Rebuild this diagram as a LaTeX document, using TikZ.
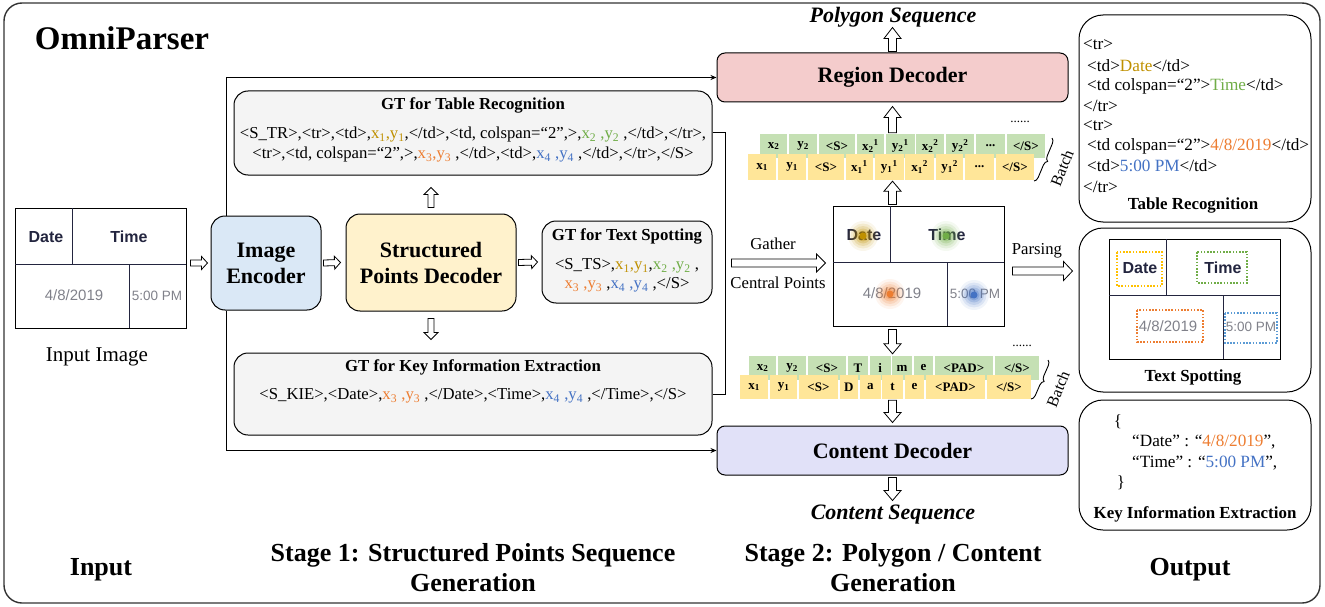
\documentclass[tikz,border=0pt]{standalone}
\usepackage{fontspec}
\setmainfont{Liberation Serif}
\newfontfamily\imgfont{Liberation Sans}
\usetikzlibrary{calc,decorations.pathreplacing,arrows.meta}
\definecolor{cGold}{HTML}{BF9000}
\definecolor{cGreen}{HTML}{70AD47}
\definecolor{cOrange}{HTML}{ED7D31}
\definecolor{cBlue}{HTML}{4472C4}
\definecolor{cEnc}{HTML}{DAE8F6}
\definecolor{cSpd}{HTML}{FFF2CC}
\definecolor{cGt}{HTML}{F4F4F4}
\definecolor{cReg}{HTML}{F4CCCC}
\definecolor{cCon}{HTML}{E1E1F8}
\definecolor{cTokG}{HTML}{C5E0B4}
\definecolor{cTokY}{HTML}{FFE699}
\definecolor{cInk}{HTML}{23253F}
\definecolor{cGray}{HTML}{80818A}
\definecolor{cDotY}{HTML}{FFC000}
\definecolor{cDotG}{HTML}{70AD47}
\definecolor{cDotO}{HTML}{ED7D31}
\definecolor{cDotB}{HTML}{5B9BD5}

\newcommand\fs[2]{\fontsize{#1}{#2}\selectfont}
\newcommand\tdots{...}

\tikzset{
  box/.style={draw=black, line width=1pt, align=center, inner sep=2pt},
  gtbox/.style={box, fill=cGt, rounded corners=14},
  panel/.style={draw=black, line width=1pt, rounded corners=24, inner sep=0},
  hollow/.style={draw=black, fill=white, line width=0.8pt, line join=miter},
  conn/.style={draw=black, line width=1pt},
  lbl/.style={inner sep=0, font=\fs{16.7}{20}},
  gttitle/.style={inner sep=0, font=\bfseries\fs{16.8}{20}},
  panellbl/.style={inner sep=0, font=\bfseries\fs{16.9}{20}},
  plain/.style={inner sep=0, font=\fs{17.2}{20}, anchor=west},
  stagelbl/.style={inner sep=0, align=center, font=\bfseries\fs{26}{30}},
  tok/.style={inner sep=0, anchor=west, font=\bfseries\fs{13}{15}},
  imgb/.style={inner sep=0, text=cInk, font=\imgfont\bfseries\fs{16}{18}},
  imgg/.style={inner sep=0, text=cGray, font=\imgfont\fs{15}{17}},
  dotbox/.style={dash pattern=on 1.6pt off 1.6pt, line width=1.8pt},
  brace/.style={decorate, decoration={brace, amplitude=5pt}, line width=0.9pt}
}

% hollow block arrow from #1 to #2: shaft half width #3, head half width #4, head length #5
\newcommand\hollowarr[5]{%
  \coordinate (ha) at #1; \coordinate (hb) at #2;
  \coordinate (hh) at ($(hb)!#5!(ha)$);
  \draw[hollow] ($(ha)!#3!90:(hb)$) -- ($(hh)!#3!90:(hb)$) -- ($(hh)!#4!90:(hb)$) -- (hb)
    -- ($(hh)!#4!-90:(hb)$) -- ($(hh)!#3!-90:(hb)$) -- ($(ha)!#3!-90:(hb)$) -- cycle;}

% small table image, #1 name, #2 top-left
\newcommand\tableimg[2]{%
  \begin{scope}[shift={#2}]
    \node[draw=black, line width=1pt, minimum width=171, minimum height=120, inner sep=0] (#1) at (85.5,60) {};
    \draw[cInk, line width=0.7pt] (0,56) -- (171,56) (57,0) -- (57,56) (114,56) -- (114,120);
    \node[imgb] (#1date) at (31,29) {Date};
    \node[imgb] (#1time) at (114,29) {Time};
    \node[imgg] (#1day) at (59,87) {4/8/2019};
    \node[imgg, font=\imgfont\fs{13.5}{15}] (#1hour) at (142,88) {5:00 PM};
  \end{scope}}

\newcommand\blurdot[2]{%
  \foreach \r/\o in {15/0.08,12.5/0.12,10/0.16,7.5/0.22,5.5/0.3} {\fill[#2, opacity=\o] #1 circle (\r pt);}
  \fill[#2] #1 circle (3.5pt);}

% token row: #1 prefix, #2 start, #3 fill, #4 height, #5 list width/text
\newcommand\tokrow[5]{%
  \node[inner sep=0, minimum size=0] (#10) at #2 {};
  \foreach \w/\t [count=\i, remember=\i as \j (initially 0)] in {#5} {
    \node[tok, fill=#3, minimum width=\w-1.5, minimum height=#4] (#1\i) at ($(#1\j.east)+(1.5,0)$) {\t};
  }}

\begin{document}
\begin{tikzpicture}[x=1pt, y=-1pt]
\useasboundingbox (0,0) rectangle (1325,607);
\draw[line width=1.4pt, black!80, rounded corners=18] (4,3) rectangle (1320,603);

\node[inner sep=0, font=\bfseries\fs{33}{36}] (title) at (122,38) {OmniParser};

% ---------- input ----------
\tableimg{inimg}{(15,208)}
\node[inner sep=0, font=\fs{21}{24}] (inlbl) at (97,357) {Input Image};

% ---------- stage 1 ----------
\node[box, fill=cEnc, rounded corners=14, minimum width=110, minimum height=94,
      font=\bfseries\fs{22}{26}] (enc) at (266,263) {Image\\Encoder};
\node[box, fill=cSpd, rounded corners=14, minimum width=170, minimum height=97,
      font=\bfseries\fs{22}{26}] (spd) at (431,262.5) {Structured\\Points Decoder};

\node[gtbox, minimum width=478, minimum height=84] (gtr) at (473,133) {};
\node[gttitle] (gtrT) at (473,105) {GT for Table Recognition};
\node[lbl] (gtr1) at (473,135) {<S\_TR>,<tr>,<td>,\textcolor{cGold}{x\textsubscript{1},y\textsubscript{1}},</td>,<td, colspan=“2”,>,\textcolor{cGreen}{x\textsubscript{2} ,y\textsubscript{2}} ,</td>,</tr>,};
\node[lbl] (gtr2) at (473,155) {<tr>,<td, colspan=“2”,>,\textcolor{cOrange}{x\textsubscript{3},y\textsubscript{3}} ,</td>,<td>,\textcolor{cBlue}{x\textsubscript{4} ,y\textsubscript{4}} ,</td>,</tr>,</S>};

\node[gtbox, minimum width=170, minimum height=82] (gts) at (627,262) {};
\node[gttitle] (gtsT) at (627,236) {GT for Text Spotting};
\node[lbl] (gts1) at (627,266) {<S\_TS>,\textcolor{cGold}{x\textsubscript{1},y\textsubscript{1}},\textcolor{cGreen}{x\textsubscript{2} ,y\textsubscript{2}} ,};
\node[lbl] (gts2) at (627,285) {\textcolor{cOrange}{x\textsubscript{3} ,y\textsubscript{3}} ,\textcolor{cBlue}{x\textsubscript{4} ,y\textsubscript{4}} ,</S>};

\node[gtbox, minimum width=478, minimum height=82] (gkie) at (473,394) {};
\node[gttitle] (gkieT) at (473,367) {GT for Key Information Extraction};
\node[lbl] (gkie1) at (473,396) {<S\_KIE>,<Date>,\textcolor{cOrange}{x\textsubscript{3} ,y\textsubscript{3}} ,</Date>,<Time>,\textcolor{cBlue}{x\textsubscript{4} ,y\textsubscript{4}} ,</Time>,</S>};

% ---------- stage 2 ----------
\node[box, fill=cReg, rounded corners=8, minimum width=351, minimum height=49,
      font=\bfseries\fs{22}{26}] (reg) at (892.5,77.5) {Region Decoder};
\node[box, fill=cCon, rounded corners=8, minimum width=351, minimum height=49,
      font=\bfseries\fs{22}{26}] (con) at (892.5,450.5) {Content Decoder};
\node[inner sep=0, font=\bfseries\itshape\fs{22}{26}] (pseq) at (893,17) {Polygon Sequence};
\node[inner sep=0, font=\bfseries\itshape\fs{22}{26}] (cseq) at (893,515) {Content Sequence};

\tableimg{mid}{(833,206)}
\blurdot{($(middate)+(-1,1)$)}{cGold}
\blurdot{($(midtime)+(-1,1)$)}{cGreen}
\blurdot{($(midday)+(-2,1)$)}{cOrange}
\blurdot{($(midhour)+(-1,1)$)}{cBlue}

\tokrow{ga}{(758.5,146)}{cTokG}{24}{28/x\textsubscript{2}, 30/y\textsubscript{2}, 37/{<S>}, 29/x\textsubscript{2}\textsuperscript{1}, 30/y\textsubscript{2}\textsuperscript{1}, 29/x\textsubscript{2}\textsuperscript{2}, 30/y\textsubscript{2}\textsuperscript{2}, 30/\tdots, 40/{</S>}}
\tokrow{ya}{(746.5,167)}{cTokY}{26}{29/x\textsubscript{1}, 30/y\textsubscript{1}, 37/{<S>}, 29/x\textsubscript{1}\textsuperscript{1}, 30/y\textsubscript{1}\textsuperscript{1}, 30/x\textsubscript{1}\textsuperscript{2}, 29/y\textsubscript{1}\textsuperscript{2}, 30/\tdots, 40/{</S>}}
\tokrow{gb}{(747.5,368)}{cTokG}{24}{28/x\textsubscript{2}, 30/y\textsubscript{2}, 39/{<S>}, 22/T, 22/i, 21/m, 21/e, 59/{<PAD>}, 46/{</S>}}
\tokrow{yb}{(738.5,387)}{cTokY}{24}{29/x\textsubscript{1}, 29/y\textsubscript{1}, 40/{<S>}, 20/D, 22/a, 22/t, 21/e, 60/{<PAD>}, 46/{</S>}}

\coordinate (brA1) at (1052,138);
\coordinate (brA2) at (1034,181);
\draw[brace] (brA1) -- (brA2);
\node[inner sep=0, rotate=68, font=\fs{16}{20}] (batchA) at (1062,168) {Batch};
\coordinate (brB1) at (1048,360);
\coordinate (brB2) at (1031,399);
\draw[brace] (brB1) -- (brB2);
\node[inner sep=0, rotate=68, font=\fs{16}{20}] (batchB) at (1058,389) {Batch};
\node[inner sep=0, font=\fs{13}{15}] (dotsA) at (1020,122) {......};
\node[inner sep=0, font=\fs{13}{15}] (dotsB) at (1022,346) {......};

\node[lbl] (gather) at (773,244) {Gather};
\node[lbl] (central) at (778,283) {Central Points};
\node[lbl] (parsing) at (1037,251) {Parsing};

% ---------- output panels ----------
\node[panel, minimum width=232, minimum height=207] (ptr) at (1195,118.5) {};
\node[plain] (tr1) at (1083,45) {<tr>};
\node[plain] (tr2) at (1087,66) {<td>\textcolor{cGold}{Date}</td>};
\node[plain] (tr3) at (1087,86) {<td colspan=“2”>\textcolor{cGreen}{Time}</td>};
\node[plain] (tr4) at (1083,106) {</tr>};
\node[plain] (tr5) at (1083,126) {<tr>};
\node[plain] (tr6) at (1087,146) {<td colspan=“2”>\textcolor{cOrange}{4/8/2019}</td>};
\node[plain] (tr7) at (1087,166) {<td>\textcolor{cBlue}{5:00 PM}</td>};
\node[plain] (tr8) at (1083,187) {</tr>};
\node[panellbl] (trT) at (1193,206) {Table Recognition};

\node[panel, minimum width=232, minimum height=164] (pts) at (1195,310) {};
\tableimg{tsimg}{(1109,239)}
\draw[dotbox, cDotY] (1117,252) rectangle (1162,286);
\draw[dotbox, cDotG] (1197,252) rectangle (1247,283);
\draw[dotbox, cDotO] (1137,310) rectangle (1203,342);
\draw[dotbox, cDotB] (1225,313) rectangle (1277,343);
\node[panellbl] (tsT) at (1193,377) {Text Spotting};

\node[panel, minimum width=232, minimum height=130] (pkie) at (1195,465) {};
\node[inner sep=0, font=\fs{17}{20}] (kb1) at (1118,422) {\{};
\node[plain] (kie1) at (1132,442) {“Date” : “\textcolor{cOrange}{4/8/2019}”,};
\node[plain] (kie2) at (1132,463) {“Time” : “\textcolor{cBlue}{5:00 PM}”,};
\node[inner sep=0, font=\fs{17}{20}] (kb2) at (1121,483) {\}};
\node[panellbl] (kieT) at (1195,514) {Key Information Extraction};

% ---------- stage labels ----------
\node[stagelbl] (sIn) at (101,570) {Input};
\node[stagelbl] (s1) at (473,568) {Stage 1: Structured Points Sequence\\Generation};
\node[stagelbl] (s2) at (893,568) {Stage 2: Polygon / Content\\Generation};
\node[stagelbl] (sOut) at (1190,570) {Output};

% ---------- connectors ----------
\coordinate (encTop) at ($(enc.north west)+(16,0)$);
\coordinate (encBot) at ($(enc.south west)+(16,0)$);
\draw[conn, -{Stealth[length=6pt,width=5pt]}] (encTop) |- (reg.west);
\draw[conn, -{Stealth[length=6pt,width=5pt]}] (encBot) |- (con.west);
\draw[conn] (gtr.east) -- ++(13,0) |- (gkie.east);

\hollowarr{($(inimg.east |- enc.west)+(4,0)$)}{($(enc.west)+(-3,0)$)}{3pt}{6.5pt}{6pt}
\hollowarr{($(enc.east)+(2,0)$)}{($(spd.west)+(-5,0)$)}{3pt}{6.5pt}{6pt}
\hollowarr{($(spd.east)+(2,0)$)}{($(gts.west)+(-4,0)$)}{3pt}{6.5pt}{6pt}
\hollowarr{($(spd.north)+(0,-6)$)}{($(spd.north |- gtr.south)+(0,12)$)}{3pt}{7pt}{7pt}
\hollowarr{($(spd.south)+(0,7)$)}{($(spd.south |- gkie.north)+(0,-13)$)}{3pt}{7pt}{7pt}
\hollowarr{($(gts.east)+(19,1)$)}{($(mid.west |- gts.east)+(-7,1)$)}{4pt}{9pt}{9pt}
\hollowarr{($(mid.east)+(8,5)$)}{($(pts.west |- mid.east)+(-6,5)$)}{4pt}{9.5pt}{9pt}
\hollowarr{($(reg.south |- mid.north)+(0,-1)$)}{($(reg.south |- ya5.south)+(0,1)$)}{4pt}{8.5pt}{10pt}
\hollowarr{($(reg.south |- ga5.north)+(0,-1)$)}{($(reg.south)+(0,4)$)}{4pt}{8.5pt}{11pt}
\hollowarr{($(reg.north)+(0,-1)$)}{($(reg.north)+(0,-25)$)}{4pt}{8.5pt}{11pt}
\hollowarr{($(reg.south |- mid.south)+(0,3)$)}{($(reg.south |- gb5.north)+(0,-2)$)}{4pt}{8.5pt}{10pt}
\hollowarr{($(con.north |- yb5.south)+(0,1)$)}{($(con.north)+(0,-3)$)}{4pt}{8.5pt}{10pt}
\hollowarr{($(con.south)+(0,2)$)}{($(con.south)+(0,25)$)}{4pt}{8.5pt}{10pt}
\end{tikzpicture}
\end{document}
